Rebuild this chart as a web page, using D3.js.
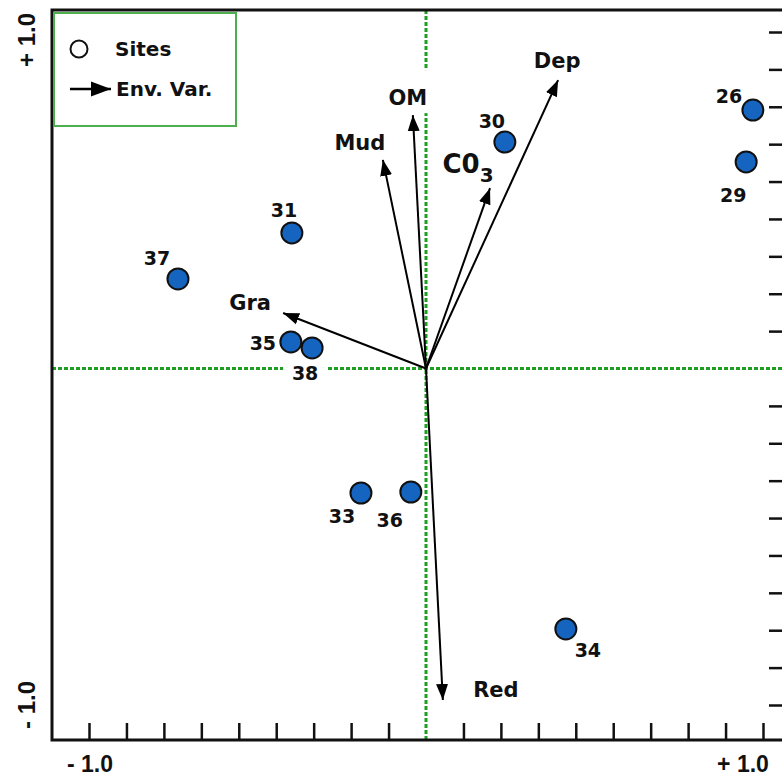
<!DOCTYPE html>
<html>
<head>
<meta charset="utf-8">
<script src="https://cdn.jsdelivr.net/npm/d3@7"></script>
<style>
html,body{margin:0;padding:0;background:#fff;}
svg{display:block;}
text{font-family:"DejaVu Sans","Liberation Sans",Arial,sans-serif;font-weight:bold;fill:#111;}
text.ax{font-family:"Liberation Sans",Arial,sans-serif;}
</style>
</head>
<body>
<svg id="chart" width="782" height="778"></svg>
<script>
// ---- data ----
const siteIds = ["26","29","30","31","37","35","38","33","36","34"];
const siteX = [0.970, 0.950, 0.234, -0.398, -0.736, -0.401, -0.338, -0.193, -0.045, 0.415];
const siteY = [0.768, 0.614, 0.673, 0.403, 0.266, 0.079, 0.061, -0.370, -0.367, -0.774];

const envNames = ["Dep","CO3","OM","Mud","Gra","Red"];
const envX = [0.392, 0.190, -0.039, -0.128, -0.424, 0.050];
const envY = [0.857, 0.536, 0.753, 0.620, 0.165, -0.985];

const axisMin = "- 1.0", axisMax = "+ 1.0";
const tickValues = [-9,-8,-7,-6,-5,-4,-3,-2,-1,1,2,3,4,5,6,7,8,9].map(v => v/9);

// ---- label placement (pixel offsets) ----
const siteLabelOffset = {"26":[-24,-7],"29":[-13,40],"30":[-13,-14],"31":[-8,-16],"37":[-21,-14],
  "35":[-28,8],"38":[-7,32],"33":[-19,30],"36":[-21,35],"34":[22,28]};
const envLabelOffset = {"Dep":[-1,-12],"CO3":[-22,-15],"OM":[-5,-10],"Mud":[-23,-10],"Gra":[-33,-3],"Red":[53,-3]};

const svg = d3.select("#chart");
const x = d3.scaleLinear().domain([-1,1]).range([89,763]);
const y = d3.scaleLinear().domain([-1,1]).range([705,32]);
const L = 52, T = 10, B = 740, R = 782;
const green = "#1e9e22";

// arrow markers
const defs = svg.append("defs");
defs.append("marker")
  .attr("id","ah").attr("markerUnits","userSpaceOnUse")
  .attr("viewBox","0 -7 16 14").attr("refX",16).attr("refY",0)
  .attr("markerWidth",16).attr("markerHeight",14).attr("orient","auto")
  .append("path").attr("d","M0,-6L16,0L0,6Z").attr("fill","#000");
defs.append("marker")
  .attr("id","ahL").attr("markerUnits","userSpaceOnUse")
  .attr("viewBox","0 -8 20 16").attr("refX",20).attr("refY",0)
  .attr("markerWidth",20).attr("markerHeight",16).attr("orient","auto")
  .append("path").attr("d","M0,-7.5L20,0L0,7.5Z").attr("fill","#000");

// zero lines
svg.append("line").attr("x1",L).attr("x2",R).attr("y1",y(0)).attr("y2",y(0))
  .attr("stroke",green).attr("stroke-width",3).attr("stroke-dasharray","4,2");
svg.append("line").attr("x1",x(0)).attr("x2",x(0)).attr("y1",T).attr("y2",B)
  .attr("stroke",green).attr("stroke-width",3).attr("stroke-dasharray","4,2");

// ticks
const bottomAxis = svg.append("g").attr("transform",`translate(0,${B})`)
  .call(d3.axisTop(x).tickValues(tickValues).tickSize(17).tickFormat(""));
bottomAxis.select(".domain").remove();
bottomAxis.selectAll("line").attr("stroke","#111").attr("stroke-width",2.5);
const rightAxis = svg.append("g").attr("transform",`translate(${R},0)`)
  .call(d3.axisLeft(y).tickValues(tickValues).tickSize(13).tickFormat(""));
rightAxis.select(".domain").remove();
rightAxis.selectAll("line").attr("stroke","#111").attr("stroke-width",2.5);

// frame lines
svg.append("path").attr("d",`M${R},${T}H${L}V${B}H${R}`)
  .attr("fill","none").attr("stroke","#111").attr("stroke-width",3);

// axis labels
svg.append("text").attr("class","ax").attr("x",x(-1)+1).attr("y",772).attr("text-anchor","middle")
  .attr("font-size",23).text(axisMin);
svg.append("text").attr("class","ax").attr("x",x(1)-20).attr("y",772).attr("text-anchor","middle")
  .attr("font-size",23).text(axisMax);
svg.append("text").attr("class","ax").attr("transform",`translate(35,${y(1)+8}) rotate(-90)`).attr("text-anchor","middle")
  .attr("font-size",24).text(axisMax);
svg.append("text").attr("class","ax").attr("transform",`translate(35,${y(-1)}) rotate(-90)`).attr("text-anchor","middle")
  .attr("font-size",24).text(axisMin);

// env arrows
const env = envNames.map((n,i)=>({name:n, x:envX[i], y:envY[i]}));
svg.append("g").selectAll("line").data(env).join("line")
  .attr("x1",x(0)).attr("y1",y(0))
  .attr("x2",d=>x(d.x)).attr("y2",d=>y(d.y))
  .attr("stroke","#000").attr("stroke-width",2).attr("marker-end","url(#ah)");

// env labels
const envLab = svg.append("g").selectAll("g").data(env).join("g")
  .attr("transform",d=>`translate(${x(d.x)+envLabelOffset[d.name][0]},${y(d.y)+envLabelOffset[d.name][1]})`);
envLab.filter(d=>d.name==="OM").append("rect")
  .attr("x",-24).attr("y",-35).attr("width",48).attr("height",43).attr("fill","#fff");
envLab.each(function(d){
  const g = d3.select(this);
  if(d.name==="CO3"){
    const t = g.append("text").attr("text-anchor","middle").attr("font-size",26);
    t.append("tspan").text("C0");
    t.append("tspan").attr("font-size",20).attr("dy",9).text("3");
  } else {
    g.append("text").attr("text-anchor","middle").attr("font-size",21).text(d.name);
  }
});

// sites
const sites = siteIds.map((id,i)=>({id, x:siteX[i], y:siteY[i]}));
const siteLab = svg.append("g").selectAll("g").data(sites).join("g")
  .attr("transform",d=>`translate(${x(d.x)+siteLabelOffset[d.id][0]},${y(d.y)+siteLabelOffset[d.id][1]})`);
siteLab.filter(d=>d.id==="38").append("rect")
  .attr("x",-22).attr("y",-17).attr("width",44).attr("height",20).attr("fill","#fff");
siteLab.append("text").attr("text-anchor","middle").attr("font-size",19).text(d=>d.id);
svg.append("g").selectAll("circle").data(sites).join("circle")
  .attr("cx",d=>x(d.x)).attr("cy",d=>y(d.y)).attr("r",10.5)
  .attr("fill","#1565c0").attr("stroke","#111").attr("stroke-width",2);

// legend
const lg = svg.append("g");
lg.append("rect").attr("x",54).attr("y",13).attr("width",182).attr("height",113)
  .attr("fill","#fff").attr("stroke","#4cae4c").attr("stroke-width",2);
lg.append("circle").attr("cx",79).attr("cy",49).attr("r",8.5)
  .attr("fill","#fff").attr("stroke","#111").attr("stroke-width",2);
lg.append("text").attr("x",115).attr("y",56).attr("font-size",20).text("Sites");
lg.append("line").attr("x1",70).attr("x2",111).attr("y1",89).attr("y2",89)
  .attr("stroke","#000").attr("stroke-width",2.5).attr("marker-end","url(#ahL)");
lg.append("text").attr("x",116).attr("y",96).attr("font-size",20).text("Env. Var.");
</script>
</body>
</html>
